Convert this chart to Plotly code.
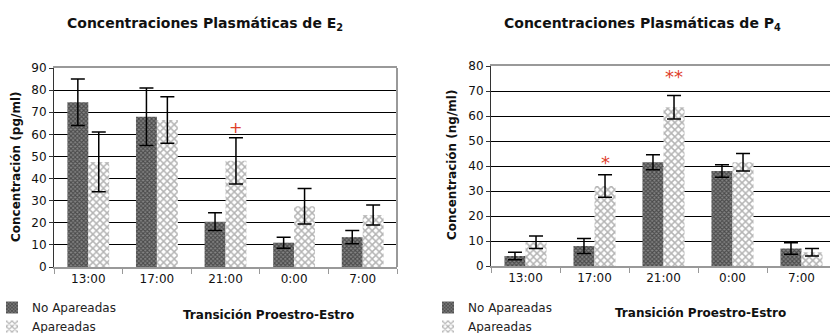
import plotly.graph_objects as go

categories = ["13:00", "17:00", "21:00", "0:00", "7:00"]

e2_no_apareadas = [74.5, 68, 20.5, 11, 13.5]
e2_no_apareadas_err = [10.5, 13, 4, 2.5, 3]
e2_apareadas = [47.5, 66.5, 48, 27.5, 23.5]
e2_apareadas_err = [13.5, 10.5, 10.5, 8, 4.5]

p4_no_apareadas = [4, 8, 41.5, 38, 7]
p4_no_apareadas_err = [1.5, 3, 3, 2.5, 2.3]
p4_apareadas = [9.5, 32, 63.5, 41.5, 5.5]
p4_apareadas_err = [2.5, 4.5, 4.7, 3.5, 1.5]

W, H = 830, 333
FONT = "DejaVu Sans"
BARGAP = 0.39

def px(x):
    return x / W

def py(y):
    return 1 - y / H

dark_pattern = dict(shape="x", fgcolor="#141414", bgcolor="#858585", size=3, solidity=0.6)
light_pattern = dict(shape="x", fgcolor="#6a6a6a", bgcolor="#ffffff", size=5, solidity=0.5)
err_style = dict(type="data", color="black", thickness=1.5, width=7, visible=True)

fig = go.Figure()

def add_bars(vals, errs, name, pattern, xa, ya, legend):
    fig.add_trace(go.Bar(
        x=categories, y=vals, name=name,
        marker=dict(color=pattern["bgcolor"], pattern=pattern, line=dict(width=0)),
        error_y=dict(array=errs, **err_style),
        xaxis=xa, yaxis=ya, legend=legend, showlegend=True,
    ))

add_bars(e2_no_apareadas, e2_no_apareadas_err, "No Apareadas", dark_pattern, "x", "y", "legend")
add_bars(e2_apareadas, e2_apareadas_err, "Apareadas", light_pattern, "x", "y", "legend")
add_bars(p4_no_apareadas, p4_no_apareadas_err, "No Apareadas", dark_pattern, "x2", "y2", "legend2")
add_bars(p4_apareadas, p4_apareadas_err, "Apareadas", light_pattern, "x2", "y2", "legend2")

xcommon = dict(type="category", showline=True, linecolor="#999999", linewidth=2, mirror=True,
               ticks="outside", tickson="boundaries", ticklen=5, tickcolor="#999999",
               showgrid=False, tickfont=dict(family=FONT, size=12, color="#111"), fixedrange=True)
ycommon = dict(showline=True, linecolor="#333333", linewidth=1, ticks="outside", ticklen=4,
               tickcolor="#333333", showgrid=True, gridcolor="black", gridwidth=1, dtick=10,
               tickfont=dict(family=FONT, size=12, color="#111"), zeroline=False)

legend_common = dict(xanchor="left", yanchor="top", bgcolor="rgba(0,0,0,0)",
                     font=dict(family=FONT, size=12, color="#222"), tracegroupgap=0, itemwidth=30)

fig.update_layout(
    width=W, height=H, margin=dict(l=0, r=0, t=0, b=0, autoexpand=False),
    paper_bgcolor="white", plot_bgcolor="white",
    barmode="group", bargap=BARGAP, bargroupgap=0,
    xaxis=dict(domain=[px(54), px(397)], range=[-0.5, 4.5], anchor="y", **xcommon),
    yaxis=dict(domain=[py(267), py(68)], range=[0, 90], anchor="x", **ycommon),
    xaxis2=dict(domain=[px(491), 1.0], range=[-0.5, 4.413], anchor="y2", **xcommon),
    yaxis2=dict(domain=[py(266), py(66)], range=[0, 80], anchor="x2", **ycommon),
    legend=dict(x=px(-8), y=py(293), **legend_common),
    legend2=dict(x=px(428), y=py(293), **legend_common),
    showlegend=True,
)

# right border of left plot
fig.add_shape(type="line", xref="x domain", yref="y domain", x0=1, x1=1, y0=0, y1=1,
              line=dict(color="#999999", width=2))

def label(text, x, y, size=12, angle=0):
    return dict(text=text, x=px(x), y=py(y), xref="paper", yref="paper", showarrow=False,
                xanchor="center", yanchor="middle", textangle=angle,
                font=dict(family=FONT, size=size, color="#111"))

ann = [
    label("<b>Concentraciones Plasmáticas de E<sub>2</sub></b>", 205, 24, 14),
    label("<b>Concentraciones Plasmáticas de P<sub>4</sub></b>", 642, 24, 14),
    label("<b>Concentración (pg/ml)</b>", 16, 167, 12, -90),
    label("<b>Concentración (ng/ml)</b>", 452, 165, 12, -90),
    label("<b>Transición Proestro-Estro</b>", 268, 315, 12),
    label("<b>Transición Proestro-Estro</b>", 700, 313, 12),
]

off = (1 - BARGAP) / 4
def mark(text, x, y, xa, ya, size):
    return dict(text=text, x=x, y=y, xref=xa, yref=ya, showarrow=False,
                xanchor="center", yanchor="middle", font=dict(family=FONT, size=size, color="#e0402a"))

ann.append(mark("+", 2 + off, 63.3, "x", "y", 16))
ann.append(mark("*", 1 + off, 41.5, "x2", "y2", 18))
ann.append(mark("**", 2 + off, 75.8, "x2", "y2", 18))
fig.update_layout(annotations=ann)

fig.write_html("out.html", config={"displayModeBar": False},
               post_script="document.body.style.margin='0';document.body.style.overflow='hidden';")
